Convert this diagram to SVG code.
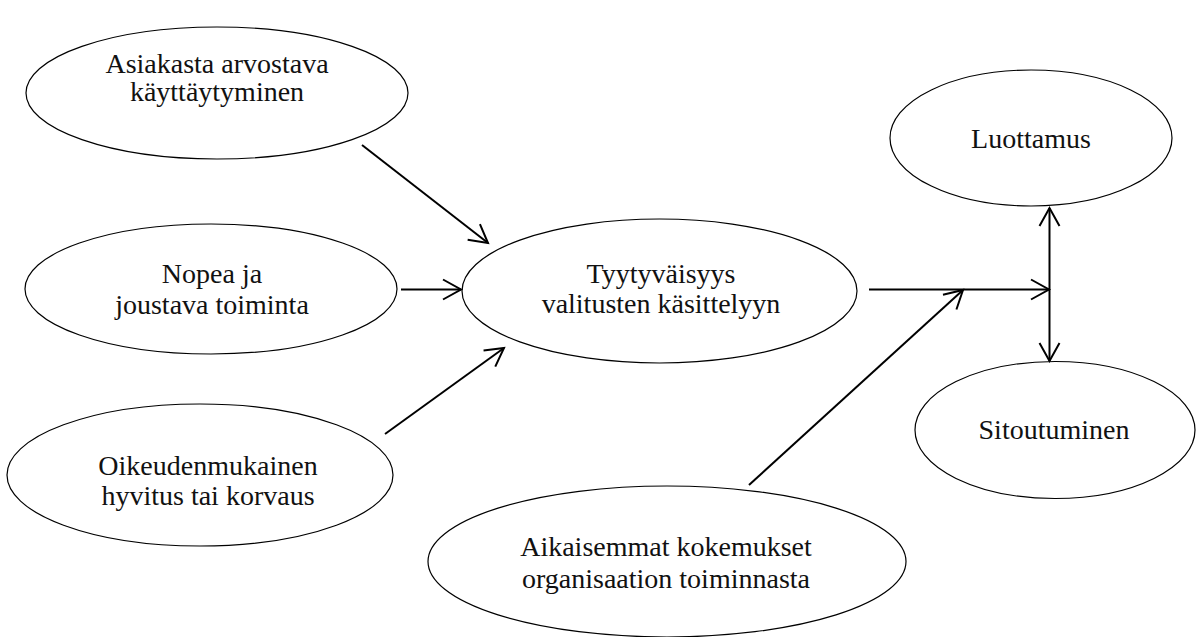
<svg xmlns="http://www.w3.org/2000/svg" width="1200" height="637" viewBox="0 0 1200 637">
<style>
.node ellipse{fill:#fff;stroke:#000;stroke-width:1.2}
.node text{font-size:28px;fill:#111;text-anchor:middle}
.edge{stroke:#000;stroke-width:2;fill:none;marker-end:url(#arr)}
</style>
<defs>
<marker id="arr" markerUnits="userSpaceOnUse" viewBox="-20 -12 24 24" refX="0" refY="0" markerWidth="24" markerHeight="24" orient="auto-start-reverse" overflow="visible">
<path d="M-18,-10 L0,0 L-18,10" fill="none" stroke="#000" stroke-width="2"/>
</marker>
</defs>
<rect width="1200" height="637" fill="#fff"/>
<g font-family="'Liberation Serif', 'Times New Roman', Tinos, 'DejaVu Serif', serif">
<g id="n1" class="node"><ellipse cx="217" cy="93" rx="191" ry="66"/><text x="217" y="73">Asiakasta arvostava</text><text x="217" y="101">käyttäytyminen</text></g>
<g id="n2" class="node"><ellipse cx="211" cy="289" rx="186" ry="65"/><text x="212" y="283">Nopea ja</text><text x="212" y="314">joustava toiminta</text></g>
<g id="n3" class="node"><ellipse cx="200" cy="475" rx="193" ry="71"/><text x="208" y="475">Oikeudenmukainen</text><text x="208" y="505">hyvitus tai korvaus</text></g>
<g id="n4" class="node"><ellipse cx="659.5" cy="291" rx="197.5" ry="72"/><text x="661" y="283">Tyytyväisyys</text><text x="661" y="313">valitusten käsittelyyn</text></g>
<g id="n5" class="node"><ellipse cx="1031" cy="138" rx="141" ry="68"/><text x="1031" y="148">Luottamus</text></g>
<g id="n6" class="node"><ellipse cx="1055" cy="430" rx="140" ry="68.5"/><text x="1054" y="439">Sitoutuminen</text></g>
<g id="n7" class="node"><ellipse cx="667" cy="561.5" rx="239" ry="75.5"/><text x="666" y="556">Aikaisemmat kokemukset</text><text x="666" y="588">organisaation toiminnasta</text></g>
</g>
<g id="connectors">
<line class="edge" x1="362" y1="145" x2="488" y2="243"/>
<line class="edge" x1="401" y1="289.5" x2="461" y2="289.5"/>
<line class="edge" x1="385" y1="434" x2="504" y2="348"/>
<line class="edge" x1="869" y1="289.5" x2="1049" y2="289.5"/>
<line class="edge" x1="749" y1="485" x2="963" y2="290"/>
<line class="edge" x1="1049.5" y1="208" x2="1049.5" y2="361" style="marker-start:url(#arr)"/>
</g>
</svg>
